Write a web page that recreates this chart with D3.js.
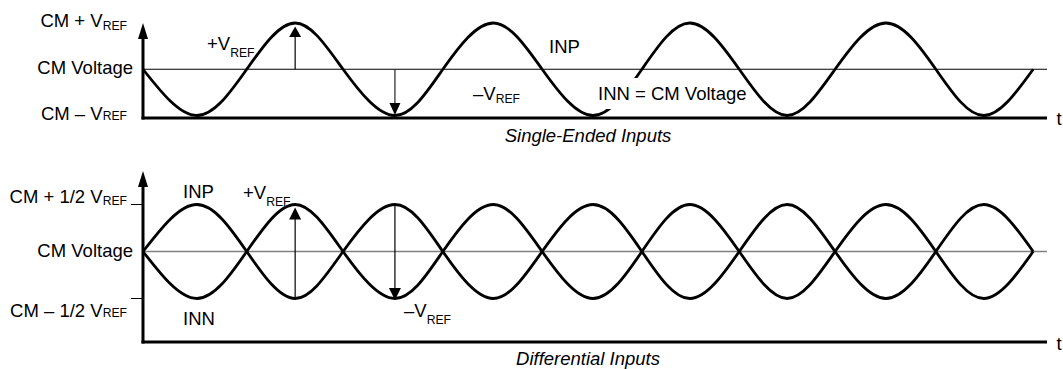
<!DOCTYPE html>
<html>
<head>
<meta charset="utf-8">
<script src="https://cdn.jsdelivr.net/npm/d3@7/dist/d3.min.js"></script>
<style>
  html, body { margin: 0; padding: 0; background: #fff; }
  svg { display: block; }
  text { font-family: "Liberation Sans", Arial, Helvetica, sans-serif; fill: #000; }
</style>
</head>
<body>
<svg id="chart" width="1063" height="369"></svg>
<script>
// ---- data ----
// time knots, in quarter-periods of the input sine wave
const timeKnots = [0, 1.09, 2.1, 3.08, 4.05, 5.1, 6.07, 7.09, 8.08, 9.11, 10.1, 11.07, 12.07, 13.04, 14.01, 15.04, 16.05, 17.02, 18.02];
// single-ended INP, normalized to V_REF around CM (−1 … +1)
const singleINP = [0, -1, 0, 1, 0, -1, 0, 1, 0, -1, 0, 1, 0, -1, 0, 1, 0, -1, 0];
// differential INP and INN, normalized to 1/2 V_REF around CM
const diffINP = [0, 1, 0, -1, 0, 1, 0, -1, 0, 1, 0, -1, 0, 1, 0, -1, 0, 1, 0];
const diffINN = [0, -1, 0, 1, 0, -1, 0, 1, 0, -1, 0, 1, 0, -1, 0, 1, 0, -1, 0];
// y-axis level labels
const singleLevels = [
  { v: 1, parts: [["CM + V"], ["REF", 2.5]] },
  { v: 0, parts: [["CM Voltage"]] },
  { v: -1, parts: [["CM \u2013 V"], ["REF", 0.5]] }
];
const diffLevels = [
  { v: 1, parts: [["CM + 1/2 V"], ["REF", 1.5]] },
  { v: 0, parts: [["CM Voltage"]] },
  { v: -1, parts: [["CM \u2013 1/2 V"], ["REF", 0.5]] }
];
const titles = ["Single-Ended Inputs", "Differential Inputs"];
const timeEnd = 18.3;

// ---- layout ----
const svg = d3.select("#chart");
const X0 = 143, X1 = 1047;
const x = d3.scaleLinear().domain([0, timeEnd]).range([X0, X1]);
const yTop = d3.scaleLinear().domain([-1, 1]).range([115.5, 23]);
const yBot = d3.scaleLinear().domain([-1, 1]).range([298.5, 204.5]);
const baseTop = 118, baseBot = 342;
const FS = 18.5, SUB = 12.2;

function label(sel, xp, yp, parts, anchor, italic) {
  const t = sel.append("text").attr("x", xp).attr("y", yp)
    .attr("font-size", FS).attr("text-anchor", anchor || "start");
  if (italic) t.attr("font-style", "italic");
  parts.forEach(p => {
    const ts = t.append("tspan").text(p[0]);
    if (p.length > 1) ts.attr("font-size", SUB).attr("dy", p[1]);
  });
  return t;
}
function tri(sel, cx, tipY, dir, len, w) {
  // dir = -1 pointing up, +1 pointing down
  const by = tipY - dir * len;
  sel.append("path")
    .attr("d", `M${cx},${tipY}L${cx - w / 2},${by}L${cx + w / 2},${by}Z`)
    .attr("fill", "#000");
}
function axes(g, base, tipY) {
  g.append("line").attr("x1", X0).attr("x2", X0).attr("y1", base + 1.5).attr("y2", tipY + 10)
    .attr("stroke", "#000").attr("stroke-width", 3);
  tri(g, X0, tipY, -1, 16, 10);
  g.append("line").attr("x1", X0 - 1.5).attr("x2", X1).attr("y1", base).attr("y2", base)
    .attr("stroke", "#000").attr("stroke-width", 3);
}
const pts = vals => vals.map((v, i) => [timeKnots[i], v]);

// ================= Single-ended panel =================
const gT = svg.append("g");
gT.append("line").attr("x1", X0).attr("x2", X1).attr("y1", yTop(0)).attr("y2", yTop(0))
  .attr("stroke", "#000").attr("stroke-width", 1.2);
axes(gT, baseTop, 23);
const lineT = d3.line().x(d => x(d[0])).y(d => yTop(d[1])).curve(d3.curveNatural);
gT.append("path").attr("d", lineT(pts(singleINP)))
  .attr("fill", "none").attr("stroke", "#000").attr("stroke-width", 2.8);

{
  const ax = x(timeKnots[3]);
  gT.append("line").attr("x1", ax).attr("x2", ax).attr("y1", yTop(0)).attr("y2", yTop(1) + 12)
    .attr("stroke", "#000").attr("stroke-width", 1.2);
  tri(gT, ax, yTop(1) + 3.5, -1, 10.5, 12);
  const bx = x(timeKnots[5]);
  gT.append("line").attr("x1", bx).attr("x2", bx).attr("y1", yTop(0)).attr("y2", yTop(-1) - 10)
    .attr("stroke", "#222").attr("stroke-width", 1.2);
  tri(gT, bx, yTop(-1) - 0.5, 1, 12, 11);
}
singleLevels.forEach(l => {
  const xe = l.v === 0 ? 133 : 127;
  label(gT, xe, yTop(l.v) + (l.v === 0 ? 5 : 4), l.parts, "end");
});
label(gT, 207, 50, [["+V"], ["REF", 6.5]]);
label(gT, 473, 99.5, [["\u2013V"], ["REF", 3]]);
label(gT, 549, 53, [["INP"]]);
{
  const t = label(gT, 598, 100, [["INN = CM Voltage"]]);
  const bb = t.node().getBBox();
  gT.insert("rect", () => t.node())
    .attr("x", bb.x - 2).attr("y", bb.y - 5)
    .attr("width", bb.width - 6).attr("height", bb.height + 10)
    .attr("fill", "#fff");
}
label(gT, 588, 142, [[titles[0]]], "middle", true);
label(gT, 1056.5, 125, [["t"]]);

// ================= Differential panel =================
const gB = svg.append("g");
gB.append("line").attr("x1", X0).attr("x2", X1).attr("y1", yBot(0)).attr("y2", yBot(0))
  .attr("stroke", "#808080").attr("stroke-width", 1.5);
axes(gB, baseBot, 171);
[1, -1].forEach(v => gB.append("line").attr("x1", 131).attr("x2", X0).attr("y1", yBot(v)).attr("y2", yBot(v))
  .attr("stroke", "#000").attr("stroke-width", 1));
const lineB = d3.line().x(d => x(d[0])).y(d => yBot(d[1])).curve(d3.curveNatural);
[diffINP, diffINN].forEach(s => gB.append("path").attr("d", lineB(pts(s)))
  .attr("fill", "none").attr("stroke", "#000").attr("stroke-width", 2.8));
{
  const ax = x(timeKnots[3]);
  gB.append("line").attr("x1", ax).attr("x2", ax).attr("y1", yBot(-1)).attr("y2", yBot(1) + 12)
    .attr("stroke", "#000").attr("stroke-width", 1.2);
  tri(gB, ax, yBot(1) + 3, -1, 12, 12);
  const bx = x(timeKnots[5]);
  gB.append("line").attr("x1", bx).attr("x2", bx).attr("y1", yBot(1)).attr("y2", yBot(-1) - 10)
    .attr("stroke", "#000").attr("stroke-width", 1.2);
  tri(gB, bx, yBot(-1) + 1.5, 1, 12, 12);
}
diffLevels.forEach(l => {
  const xe = l.v === 0 ? 133 : 127;
  const dy = l.v === 1 ? -1.5 : (l.v === 0 ? 5.5 : 18);
  label(gB, xe, yBot(l.v) + dy, l.parts, "end");
});
label(gB, 183, 197.5, [["INP"]]);
label(gB, 183, 325, [["INN"]]);
label(gB, 243, 199, [["+V"], ["REF", 7]]);
label(gB, 404, 316.5, [["\u2013V"], ["REF", 7.5]]);
label(gB, 588, 365, [[titles[1]]], "middle", true);
label(gB, 1056.5, 350, [["t"]]);
</script>
</body>
</html>
